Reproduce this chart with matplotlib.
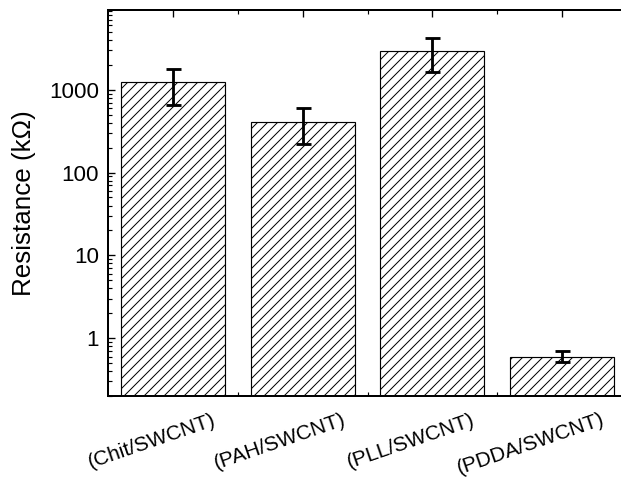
import matplotlib
matplotlib.use("Agg")
import matplotlib.pyplot as plt
import matplotlib.transforms as mtransforms
from matplotlib.ticker import LogLocator, NullFormatter, FixedLocator
import numpy as np

categories = ["(Chit/SWCNT)", "(PAH/SWCNT)", "(PLL/SWCNT)", "(PDDA/SWCNT)"]
resistance = [1225, 408, 2925, 0.60]
err_low_val = [659, 224, 1649, 0.514]
err_high_val = [1775, 601, 4266, 0.69]

plt.rcParams['font.family'] = ['Liberation Sans', 'DejaVu Sans']
plt.rcParams['hatch.linewidth'] = 0.6

dpi = 120
fig = plt.figure(figsize=(621 / dpi, 477 / dpi), dpi=dpi)
ax = fig.add_axes([108 / 621, 1 - 396 / 477, 519 / 621, 386 / 477])

x = np.arange(len(categories))
res = np.array(resistance)
yerr = [res - np.array(err_low_val), np.array(err_high_val) - res]

ax.bar(x, res, width=0.8, color='white', edgecolor='black', linewidth=0.7,
       hatch='////', zorder=2)
ax.errorbar(x, res, yerr=yerr, fmt='none', ecolor='black', elinewidth=1.7,
            capsize=4.5, capthick=1.7, zorder=3)

ax.set_yscale('log')
ax.set_ylim(0.2, 9200)
ax.set_xlim(-0.5, 3.5)

ax.set_yticks([1, 10, 100, 1000])
ax.set_yticklabels(['1', '10', '100', '1000'])
ax.yaxis.set_minor_locator(LogLocator(base=10, subs=np.arange(2, 10)))
ax.yaxis.set_minor_formatter(NullFormatter())

ax.set_xticks(x)
ax.xaxis.set_minor_locator(FixedLocator([0.5, 1.5, 2.5]))

ax.tick_params(axis='both', which='major', direction='in', length=4.2, width=0.8,
               top=True, right=False)
ax.tick_params(axis='both', which='minor', direction='in', length=2.2, width=0.7,
               top=True, right=False)
ax.tick_params(axis='y', which='major', labelsize=13.4, pad=5.4)
ax.tick_params(axis='x', which='major', pad=8.5)

ax.set_xticklabels(categories, rotation=19, ha='right', va='top', fontsize=12.5)
offset = mtransforms.ScaledTranslation(45 / dpi, 0, fig.dpi_scale_trans)
for lbl in ax.get_xticklabels():
    lbl.set_transform(lbl.get_transform() + offset)

for s in ax.spines.values():
    s.set_linewidth(1.2)

ax.set_ylabel('Resistance (kΩ)', fontsize=15.6)
ax.yaxis.set_label_coords(-0.139, 0.5)

fig.savefig('out.png', dpi=dpi)
